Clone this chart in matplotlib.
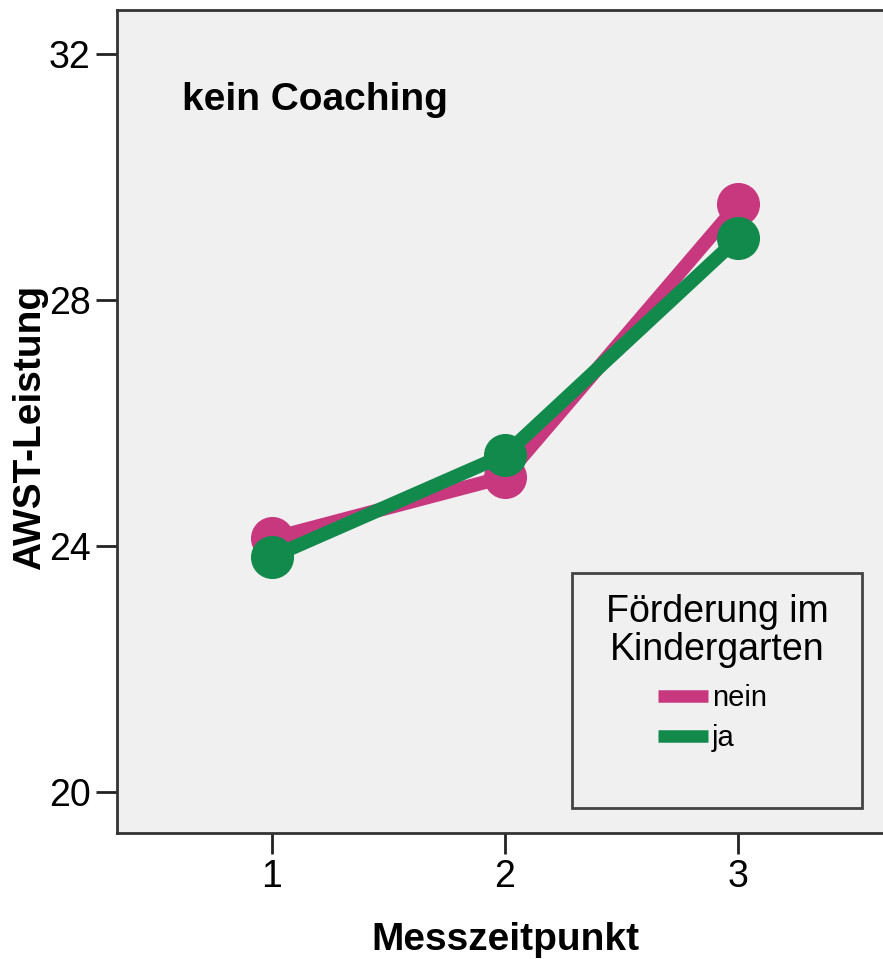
import matplotlib
matplotlib.use("Agg")
import matplotlib.pyplot as plt
from matplotlib.patches import Rectangle
from matplotlib.lines import Line2D

# Data
zeitpunkte = [1, 2, 3]
nein_vals = [24.12, 25.12, 29.55]
ja_vals = [23.82, 25.48, 29.0]
series_labels = ["nein", "ja"]
y_ticks = [20, 24, 28, 32]
x_ticks = [1, 2, 3]

plt.rcParams['font.family'] = ['Liberation Sans', 'DejaVu Sans']

W, H = 883, 959
fig = plt.figure(figsize=(W / 100, H / 100), dpi=100)
fig.patch.set_facecolor('white')
ax = fig.add_axes([117 / W, (H - 833) / H, 1 - 117 / W, (833 - 10) / H])
ax.set_facecolor('#f0f0f0')

pink = '#c8387f'
green = '#128a4c'

ax.plot(zeitpunkte, nein_vals, color=pink, lw=10, marker='o', ms=30,
        solid_capstyle='round', label=series_labels[0], zorder=3)
ax.plot(zeitpunkte, ja_vals, color=green, lw=10, marker='o', ms=30,
        solid_capstyle='round', label=series_labels[1], zorder=4)

ax.set_xlim(0.335, 3.622)
ax.set_ylim(19.33, 32.71)
ax.set_xticks(x_ticks)
ax.set_yticks(y_ticks)
ax.tick_params(axis='both', direction='out', length=15, width=2, colors='#222222',
               labelsize=27, labelcolor='black', pad=4)
for s in ['left', 'bottom', 'top']:
    ax.spines[s].set_linewidth(2)
    ax.spines[s].set_color('#333333')
ax.spines['right'].set_visible(False)

fig.text(182 / W, 1 - 110 / H, 'kein Coaching', fontsize=28, fontweight='bold',
         ha='left', va='baseline')
fig.text(505 / W, 1 - 940 / H, 'Messzeitpunkt', fontsize=28, fontweight='bold',
         ha='center', va='center')
fig.text(30 / W, 1 - 427 / H, 'AWST-Leistung', fontsize=28, fontweight='bold',
         ha='center', va='center', rotation=90)

# Legend frame
fig.patches.append(Rectangle((572 / W, 1 - 808 / H), (862 - 572) / W, (808 - 573) / H,
                             transform=fig.transFigure, facecolor='#f0f0f0',
                             edgecolor='#444444', lw=2, zorder=5))
fig.text(717 / W, 1 - 622 / H, 'Förderung im', fontsize=27, ha='center',
         va='baseline', zorder=6)
fig.text(717 / W, 1 - 660 / H, 'Kindergarten', fontsize=27, ha='center',
         va='baseline', zorder=6)

h2 = [Line2D([0], [0], color=pink, lw=9, solid_capstyle='butt'),
      Line2D([0], [0], color=green, lw=9, solid_capstyle='butt')]
leg = fig.legend(h2, series_labels, loc='upper left',
                 bbox_to_anchor=(658 / W, 1 - 684 / H),
                 frameon=False, fontsize=21, handlelength=1.7, handletextpad=0.15,
                 labelspacing=0.42, borderaxespad=0, borderpad=0)
leg.set_zorder(7)

fig.savefig('out.png', dpi=100, facecolor='white')
